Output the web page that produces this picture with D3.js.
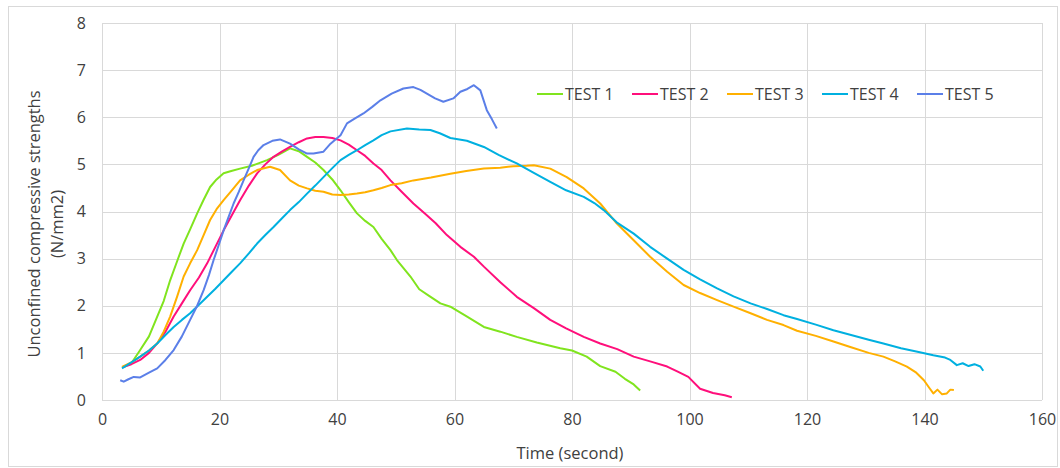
<!DOCTYPE html>
<html>
<head>
<meta charset="utf-8">
<script src="https://cdn.jsdelivr.net/npm/d3@7"></script>
<style>
  body { margin: 0; background: #fff; }
  text { font-family: "Open Sans", sans-serif; fill: #404040; }
</style>
</head>
<body>
<div id="chart"></div>
<script>
'use strict';

// series names and colours
var seriesNames = ['TEST 1', 'TEST 2', 'TEST 3', 'TEST 4', 'TEST 5'];
var seriesColors = ['#80e41e', '#ff0f7b', '#ffb000', '#00b0e0', '#5b7fe8'];

// ticks
var xTicks = [0, 20, 40, 60, 80, 100, 120, 140, 160];
var yTicks = [0, 1, 2, 3, 4, 5, 6, 7, 8];

// [time (s), strength (N/mm2)]
var test1 = [[3.6,0.70],[5,0.78],[6.5,1.06],[8,1.35],[9.4,1.77],[10.5,2.1],[11.6,2.54],[12.8,2.95],[13.9,3.32],[15,3.62],[16.2,3.96],[17.3,4.25],[18.4,4.52],[19.5,4.68],[20.7,4.81],[22,4.86],[23.5,4.91],[25.5,4.97],[28.1,5.09],[30,5.2],[32,5.34],[33.5,5.28],[34.9,5.16],[36.3,5.04],[37.7,4.88],[39.2,4.68],[40.6,4.45],[42,4.2],[43.4,3.96],[44.8,3.8],[46.2,3.67],[47.6,3.42],[49.1,3.18],[50.2,2.97],[52.5,2.62],[54,2.35],[55.8,2.2],[57.6,2.05],[59.3,1.98],[62,1.78],[65,1.55],[67.8,1.45],[70.6,1.34],[74,1.22],[78,1.1],[80,1.05],[82.5,0.92],[84.8,0.72],[87.4,0.6],[89,0.45],[90.5,0.33],[91.6,0.2]];
var test2 = [[3.6,0.70],[5,0.76],[6.5,0.85],[8,1.0],[9.4,1.2],[10.8,1.45],[12.2,1.77],[13.6,2.05],[15,2.33],[16.5,2.6],[17.9,2.9],[19.3,3.25],[20.7,3.6],[22.1,3.92],[23.5,4.24],[25,4.55],[26.4,4.81],[27.8,5.0],[29.2,5.16],[30.6,5.27],[32,5.37],[33.5,5.47],[34.9,5.55],[36.3,5.58],[37.7,5.58],[39.2,5.56],[40.6,5.51],[42,5.42],[43.4,5.3],[44.8,5.18],[46.2,5.02],[47.6,4.88],[49.1,4.66],[51,4.42],[53,4.17],[55,3.95],[56.8,3.75],[58.7,3.5],[61,3.25],[63.3,3.04],[65,2.83],[67.8,2.5],[70.6,2.19],[73.5,1.95],[76.3,1.7],[79,1.52],[82,1.34],[84.8,1.2],[87.7,1.08],[90.5,0.92],[93.3,0.82],[96.2,0.71],[98,0.6],[99.8,0.49],[101.8,0.24],[104,0.15],[106,0.1],[107.2,0.06]];
var test3 = [[3.4,0.70],[5,0.8],[6.5,0.92],[8,1.05],[9.4,1.2],[10.5,1.45],[11.6,1.77],[12.8,2.2],[13.9,2.62],[15,2.9],[16.2,3.18],[17.3,3.5],[18.4,3.82],[19.5,4.05],[20.7,4.24],[22.1,4.45],[23.5,4.66],[25,4.78],[26.4,4.88],[28.6,4.95],[30.3,4.88],[32,4.66],[33.5,4.55],[34.9,4.49],[36.3,4.44],[37.7,4.42],[39.2,4.36],[40.6,4.35],[42,4.36],[43.4,4.38],[44.8,4.41],[46.2,4.45],[47.6,4.5],[49.1,4.56],[51,4.6],[53,4.66],[56,4.72],[59.3,4.8],[62,4.86],[65,4.91],[67.8,4.93],[70,4.96],[72.3,4.97],[73.5,4.98],[76.3,4.91],[79.1,4.73],[82,4.49],[84.8,4.17],[86.2,3.96],[87.6,3.75],[90.5,3.39],[93.3,3.04],[96.2,2.72],[99,2.44],[101.8,2.27],[104.7,2.12],[107.5,1.98],[110.4,1.84],[113.2,1.7],[116,1.59],[118.3,1.47],[121.5,1.36],[124.5,1.24],[127.5,1.12],[130.5,1.0],[133,0.92],[135,0.82],[137,0.71],[138.6,0.58],[139.9,0.42],[140.8,0.26],[141.5,0.14],[142.2,0.22],[143,0.12],[143.8,0.14],[144.4,0.22],[145,0.21]];
var test4 = [[3.4,0.67],[5,0.8],[6.5,0.92],[8,1.05],[9.4,1.2],[10.8,1.38],[12.2,1.55],[13.6,1.7],[15,1.84],[16.5,2.02],[17.9,2.19],[19.3,2.36],[20.7,2.54],[22.1,2.72],[23.5,2.9],[25,3.11],[26.4,3.32],[27.8,3.5],[29.2,3.67],[30.6,3.85],[32,4.03],[33.5,4.2],[34.9,4.38],[36.3,4.55],[37.7,4.73],[39.2,4.92],[40.6,5.09],[42,5.2],[43.4,5.3],[44.8,5.41],[46.2,5.51],[47.6,5.62],[49.1,5.7],[51.9,5.76],[54,5.74],[55.9,5.73],[57.5,5.66],[59.3,5.56],[62.1,5.5],[65,5.37],[67.5,5.2],[70.6,5.02],[73.5,4.82],[76.3,4.63],[79,4.45],[82,4.31],[83.8,4.18],[85.4,4.03],[87.6,3.77],[90.5,3.53],[93.3,3.25],[96.2,3.0],[99,2.76],[101.8,2.56],[104.7,2.37],[107.5,2.2],[110.4,2.05],[113.2,1.93],[116,1.8],[118.3,1.72],[121.5,1.6],[124.5,1.48],[127.5,1.38],[130.5,1.28],[133,1.2],[136,1.1],[139,1.02],[141.5,0.95],[143.5,0.9],[144.4,0.85],[145.5,0.74],[146.5,0.78],[147.5,0.72],[148.5,0.76],[149.5,0.71],[150,0.62]];
var test5 = [[3.1,0.42],[3.7,0.39],[4.5,0.44],[5.4,0.49],[6.5,0.48],[8,0.58],[9.4,0.67],[10.8,0.85],[12.2,1.06],[13.6,1.35],[15,1.7],[16.2,2.0],[17.3,2.33],[18.2,2.65],[19,2.97],[19.9,3.3],[20.7,3.6],[21.6,3.9],[22.4,4.17],[23.3,4.42],[24.1,4.66],[25,4.92],[25.8,5.16],[26.6,5.3],[27.5,5.41],[29,5.5],[30.3,5.53],[32,5.44],[33.5,5.32],[34.9,5.23],[36,5.23],[37.7,5.27],[38.9,5.44],[40.6,5.62],[41.7,5.87],[43,5.97],[44.5,6.08],[46,6.22],[47.4,6.36],[49.3,6.5],[51.3,6.61],[53,6.64],[54.2,6.58],[55.3,6.5],[56.7,6.4],[58.1,6.33],[59.8,6.4],[61,6.54],[62.2,6.6],[63.3,6.68],[64.4,6.57],[65.5,6.15],[66.4,5.95],[67.2,5.76]];

var seriesData = [test1, test2, test3, test4, test5];

var margins = {top: 23, bottom: 68, left: 102, right: 18};
var width = 1060, height = 468;
var cw = width - margins.left - margins.right;
var ch = height - margins.top - margins.bottom;

var svg = d3.select('#chart').append('svg')
    .attr('width', width)
    .attr('height', height);

// outer chart border
svg.append('rect')
    .attr('x', 8.5).attr('y', 6.5)
    .attr('width', 1049).attr('height', 460)
    .style('fill', 'none')
    .style('stroke', '#d9d9d9');

var xScale = d3.scaleLinear().domain([0, 160]).range([0, cw]);
var yScale = d3.scaleLinear().domain([0, 8]).range([ch, 0]);

var chart = svg.append('g')
    .attr('transform', 'translate(' + margins.left + ',' + margins.top + ')');

// gridlines
chart.append('g').selectAll('line.hg')
    .data(yTicks)
    .enter().append('line')
    .attr('x1', 0).attr('x2', cw)
    .attr('y1', function(d){ return Math.round(yScale(d)) + 0.5; })
    .attr('y2', function(d){ return Math.round(yScale(d)) + 0.5; })
    .style('stroke', '#d9d9d9')
    .style('stroke-width', 1);

chart.append('g').selectAll('line.vg')
    .data(xTicks)
    .enter().append('line')
    .attr('y1', 0).attr('y2', ch)
    .attr('x1', function(d){ return Math.round(xScale(d)) + 0.5; })
    .attr('x2', function(d){ return Math.round(xScale(d)) + 0.5; })
    .style('stroke', '#d9d9d9')
    .style('stroke-width', 1);

// axes (labels only)
var xAxis = d3.axisBottom(xScale).tickValues(xTicks).tickSize(0).tickPadding(14);
var yAxis = d3.axisLeft(yScale).tickValues(yTicks).tickSize(0).tickPadding(16);

var xg = chart.append('g').attr('transform', 'translate(0,' + ch + ')').call(xAxis);
var yg = chart.append('g').call(yAxis);
[xg, yg].forEach(function(g){
    g.select('.domain').remove();
    g.selectAll('text')
        .style('font-family', '"Open Sans", sans-serif')
        .style('font-size', '16px')
        .style('fill', '#404040');
});

// lines
var line = d3.line()
    .x(function(d){ return xScale(d[0]); })
    .y(function(d){ return yScale(d[1]); });

chart.selectAll('path.series')
    .data(seriesData)
    .enter().append('path')
    .attr('class', 'series')
    .attr('d', line)
    .style('fill', 'none')
    .style('stroke', function(d, i){ return seriesColors[i]; })
    .style('stroke-width', 2)
    .style('stroke-linejoin', 'round');

// axis titles
svg.append('text')
    .attr('x', 570)
    .attr('y', 459)
    .style('text-anchor', 'middle')
    .style('font-size', '16.5px')
    .text('Time (second)');

var yTitle = svg.append('text')
    .attr('transform', 'translate(40,' + 224 + ') rotate(-90)')
    .style('text-anchor', 'middle')
    .style('font-size', '16.5px');
yTitle.append('tspan').attr('x', 0).attr('dy', 0).text('Unconfined compressive strengths');
yTitle.append('tspan').attr('x', 0).attr('dy', '1.4em').text('(N/mm2)');

// legend
var legend = svg.append('g').attr('transform', 'translate(537,94)');
var items = legend.selectAll('g')
    .data(seriesNames)
    .enter().append('g')
    .attr('transform', function(d, i){ return 'translate(' + (i * 95) + ',0)'; });
items.append('line')
    .attr('x1', 0).attr('x2', 26)
    .attr('y1', 0).attr('y2', 0)
    .style('stroke', function(d, i){ return seriesColors[i]; })
    .style('stroke-width', 2);
items.append('text')
    .attr('x', 28)
    .attr('y', 6)
    .style('font-size', '16px')
    .text(function(d){ return d; });
</script>
</body>
</html>
